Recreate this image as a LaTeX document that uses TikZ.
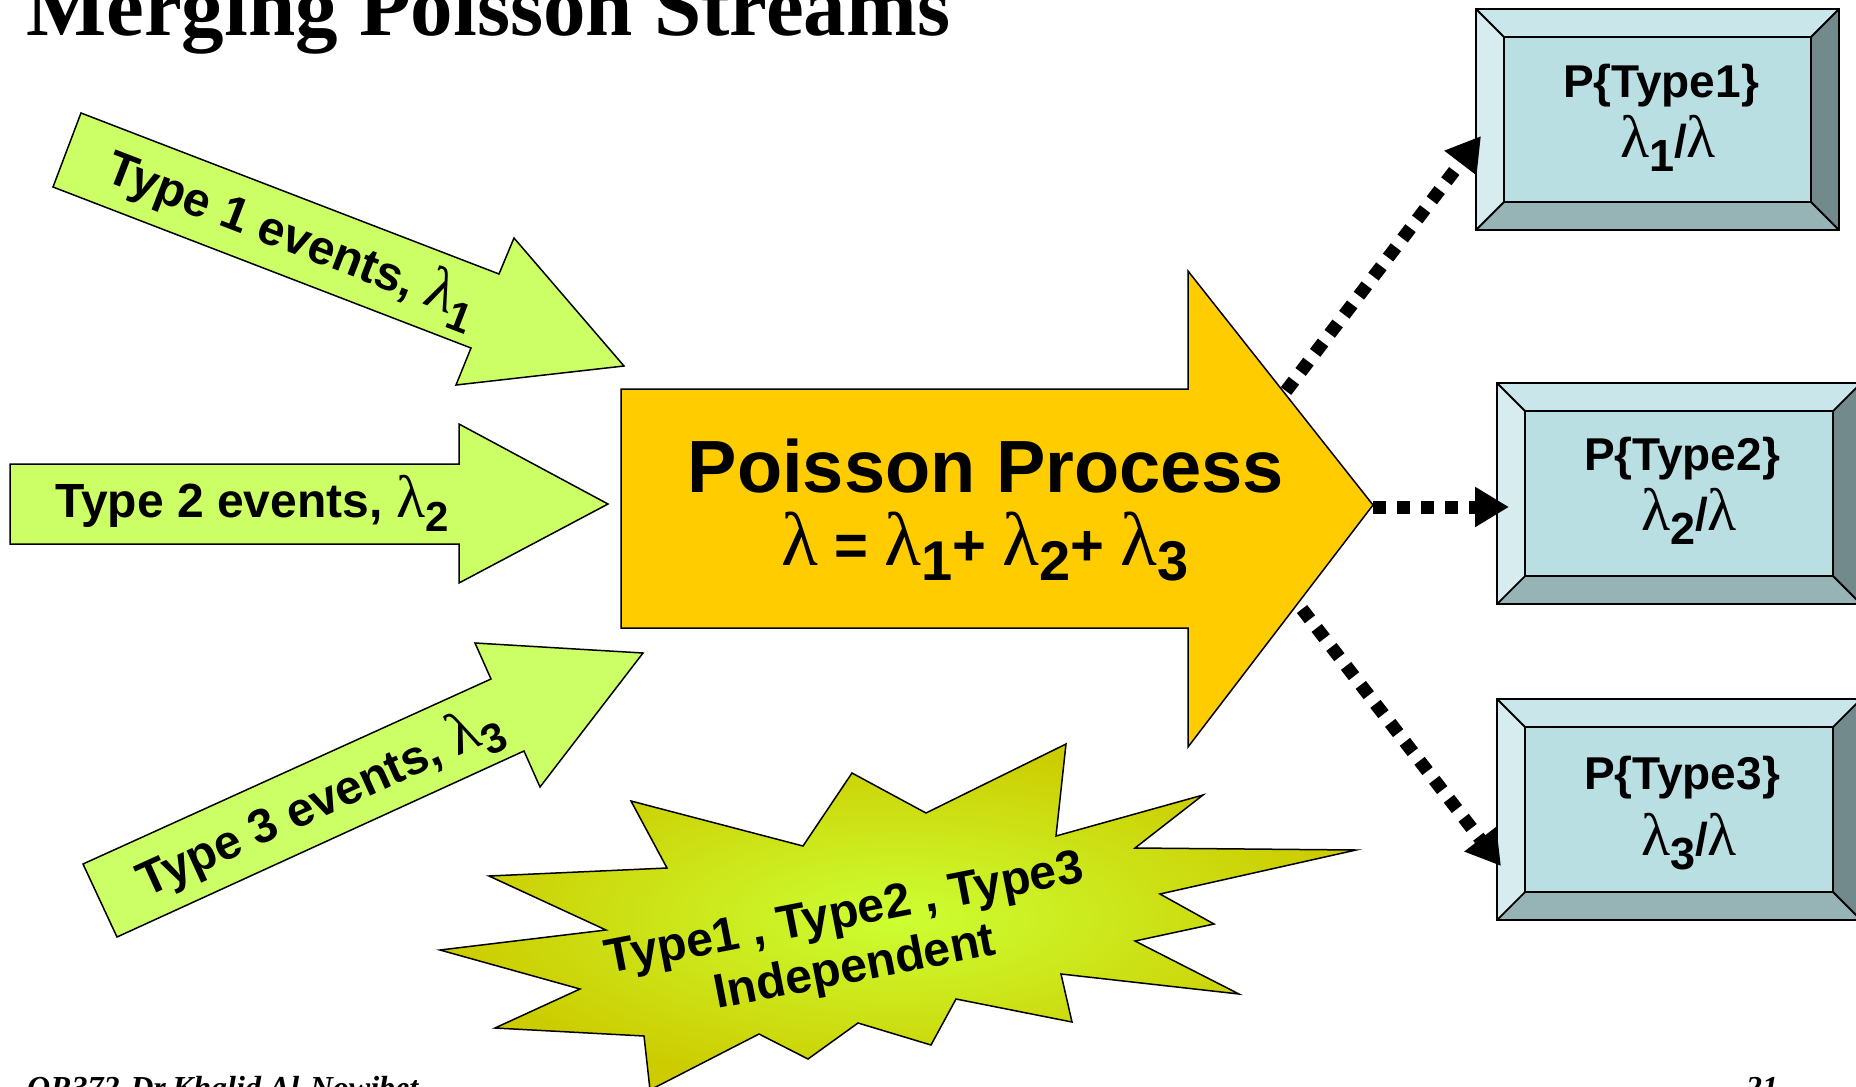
\documentclass[tikz,border=0pt]{standalone}
\usepackage{fontspec}
\setmainfont{Liberation Sans}
\newfontfamily\grk{Liberation Serif}
\newfontfamily\tms{Liberation Serif}
\usetikzlibrary{arrows.meta}

\definecolor{argreen}{RGB}{204,255,102}
\definecolor{argold}{RGB}{255,204,0}
\definecolor{burstin}{RGB}{204,255,51}
\definecolor{burstout}{RGB}{204,204,0}
\definecolor{bxface}{RGB}{185,223,227}
\definecolor{bxtop}{RGB}{201,230,234}
\definecolor{bxleft}{RGB}{214,236,239}
\definecolor{bxbot}{RGB}{150,179,182}
\definecolor{bxright}{RGB}{114,138,140}

\newcommand\lam[1]{{\grk\mdseries\fontsize{#1}{#1}\selectfont λ}}
% lowered subscript: drop, size, text
\newcommand\lo[3]{\raisebox{-#1}{\fontsize{#2}{#2}\selectfont #3}}

% bevel box: name, x1, y1, x2, y2, bevel
\newcommand\bevbox[6]{%
  \fill[bxtop] (#2,#3) -- (#4,#3) -- (#4-#6,#3+#6) -- (#2+#6,#3+#6) -- cycle;
  \fill[bxleft] (#2,#3) -- (#2+#6,#3+#6) -- (#2+#6,#5-#6) -- (#2,#5) -- cycle;
  \fill[bxbot] (#2,#5) -- (#2+#6,#5-#6) -- (#4-#6,#5-#6) -- (#4,#5) -- cycle;
  \fill[bxright] (#4,#3) -- (#4-#6,#3+#6) -- (#4-#6,#5-#6) -- (#4,#5) -- cycle;
  \fill[bxface] (#2+#6,#3+#6) rectangle (#4-#6,#5-#6);
  \draw[bxline] (#2,#3) rectangle (#4,#5);
  \draw[bxline] (#2+#6,#3+#6) rectangle (#4-#6,#5-#6);
  \draw[bxline] (#2,#3) -- (#2+#6,#3+#6) (#4,#3) -- (#4-#6,#3+#6)
                (#2,#5) -- (#2+#6,#5-#6) (#4,#5) -- (#4-#6,#5-#6);
  \coordinate (#1) at ({(#2+#4)/2},{(#3+#5)/2});
}

\begin{document}
\begin{tikzpicture}[x=1pt,y=-1pt,
  shapeline/.style={draw=black, line width=1.5pt, line join=miter},
  greenarrow/.style={shapeline, fill=argreen},
  goldarrow/.style={shapeline, fill=argold},
  bxline/.style={draw=black, line width=1.8pt},
  lbl/.style={font=\bfseries\fontsize{48}{56}\selectfont, inner sep=0pt},
  boxlbl/.style={font=\bfseries\fontsize{46}{52}\selectfont, inner sep=0pt, anchor=base},
  dotconn/.style={line width=13pt, dash pattern=on 13pt off 11pt,
     -{Triangle[length=34pt,width=38pt]}}]
\useasboundingbox (0,0) rectangle (1856,1087);
\fill[white] (0,0) rectangle (1856,1087);

% title
\node[anchor=base west, inner sep=0pt, font=\tms\bfseries\fontsize{85}{90}\selectfont] (title) at (26,35) {Merging Poisson Streams};

% footer (cut by the page edge)
\node[anchor=base west, inner sep=0pt, font=\tms\bfseries\itshape\fontsize{32}{36}\selectfont] (foot) at (27,1098) {OR372-Dr.Khalid Al-Nowibet};
\node[anchor=base west, inner sep=0pt, font=\tms\bfseries\itshape\fontsize{32}{36}\selectfont] (page) at (1746,1098) {21};

% type 1 arrow
\path[greenarrow] (81,113) -- (499,274) -- (514,238) -- (624,366) -- (456,385) -- (471,348) -- (53,187) -- cycle;
\node[lbl, rotate=-21.1] (t1) at (292,238) {Type 1 events, \lam{60}\lo{13pt}{42}{1}};

% type 2 arrow
\path[greenarrow] (10,464) -- (459,464) -- (459,424) -- (608,504) -- (459,583) -- (459,544) -- (10,544) -- cycle;
\node[lbl, anchor=base] (t2) at (252,517) {Type 2 events, \lam{60}\lo{14pt}{42}{2}};

% type 3 arrow
\path[greenarrow] (83,864) -- (491,679) -- (475,643) -- (643,653) -- (540,787) -- (524,751) -- (117,937) -- cycle;
\node[lbl, rotate=24.4] (t3) at (320,803) {Type 3 events, \lam{60}\lo{13pt}{42}{3}};

% main arrow
\path[goldarrow] (621,389) -- (1188,389) -- (1188,271) -- (1373,505) -- (1188,747) -- (1188,628) -- (621,628) -- cycle;
\node[inner sep=0pt, anchor=base, font=\bfseries\fontsize{74}{80}\selectfont] (pp) at (986,492) {Poisson Process};
\node[inner sep=0pt, anchor=base, font=\bfseries\fontsize{58}{66}\selectfont] (sum) at (985,565)
  {\lam{76} = \lam{76}\lo{15pt}{56}{1}+ \lam{76}\lo{15pt}{56}{2}+ \lam{76}\lo{15pt}{56}{3}};

% starburst
\path[shapeline, inner color=burstin, outer color=burstout]
  (631,801) -- (803,846) -- (852,773) -- (926,813) -- (1066,744) -- (1056,836)
  -- (1203,795) -- (1135,848) -- (1356,850) -- (1160,894) -- (1214,924)
  -- (1135,941) -- (1239,994) -- (1061,974) -- (1072,1022) -- (956,999)
  -- (931,1045) -- (858,1023) -- (808,1059) -- (759,1034) -- (650,1090)
  -- (644,1036) -- (495,1028) -- (580,989) -- (440,950) -- (606,930)
  -- (489,876) -- (667,868) -- cycle;
\node[inner sep=0pt, rotate=11, align=center, font=\bfseries\fontsize{48}{55}\selectfont] (indep) at (850,943)
  {Type1 , Type2 , Type3\\Independent};

% result boxes
\bevbox{box1}{1476}{9}{1839}{230}{28}
\bevbox{box2}{1497}{383}{1861}{604}{28}
\bevbox{box3}{1497}{699}{1861}{920}{28}

\node[boxlbl] (p1) at (1661,97) {P\{Type1\}};
\node[boxlbl] (r1) at (1668,157) {\lam{60}\lo{14pt}{45}{1}/\lam{60}};
\node[boxlbl] (p2) at (1682,470) {P\{Type2\}};
\node[boxlbl] (r2) at (1689,530) {\lam{60}\lo{14pt}{45}{2}/\lam{60}};
\node[boxlbl] (p3) at (1682,789) {P\{Type3\}};
\node[boxlbl] (r3) at (1689,855) {\lam{60}\lo{14pt}{45}{3}/\lam{60}};

% connectors
\coordinate (c1s) at (1286,391);
\coordinate (c1e) at (1481,136);
\coordinate (c2s) at (1373,507);
\coordinate (c2e) at (1509,507);
\coordinate (c3s) at (1302,609);
\coordinate (c3e) at (1501,866);
\draw[dotconn] (c1s) -- (c1e);
\draw[dotconn] (c2s) -- (c2e);
\draw[dotconn] (c3s) -- (c3e);
\end{tikzpicture}
\end{document}
